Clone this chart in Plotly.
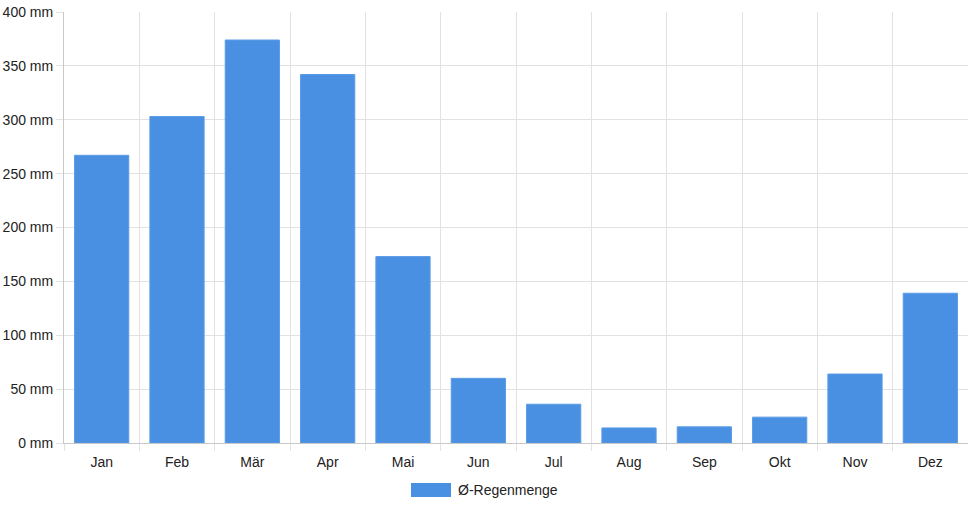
import plotly.graph_objects as go

# Monatsnamen und mittlere Regenmenge (mm)
monate = ["Jan", "Feb", "Mär", "Apr", "Mai", "Jun",
          "Jul", "Aug", "Sep", "Okt", "Nov", "Dez"]
regen_mm = [267, 303, 374, 342, 173, 60, 36, 14, 15, 24, 64, 139]
serie_name = "Ø-Regenmenge"
y_ticks = [0, 50, 100, 150, 200, 250, 300, 350, 400]
y_labels = [f"{v} mm" for v in y_ticks]

blau = "#4a90e2"
grid = "#e2e2e2"

fig = go.Figure()
fig.add_trace(go.Bar(
    x=monate, y=regen_mm, name=serie_name,
    marker=dict(color=blau, line=dict(color="#5b9be6", width=1)),
    showlegend=False,
    hovertemplate="%{x}: %{y} mm<extra></extra>",
))

fig.update_xaxes(
    type="category", tickson="boundaries",
    showgrid=True, gridcolor=grid, gridwidth=1,
    ticks="outside", ticklen=7, tickcolor=grid,
    ticklabelstandoff=6,
    showline=True, linecolor="#c8c8c8", linewidth=1,
    tickfont=dict(size=14, color="#222"),
)
fig.update_yaxes(
    range=[0, 400], tickmode="array", tickvals=y_ticks, ticktext=y_labels,
    showgrid=True, gridcolor=grid, gridwidth=1,
    ticks="outside", ticklen=7, tickcolor=grid,
    showline=True, linecolor="#c8c8c8", linewidth=1,
    zeroline=False,
    tickfont=dict(size=14, color="#222"),
)

# Legende im Chart.js-Stil: breites Farbfeld + Text
fig.add_shape(type="rect", xref="paper", yref="paper",
              x0=(411 - 64) / 904, x1=(451 - 64) / 904,
              y0=-(497 - 443) / 431, y1=-(483 - 443) / 431,
              fillcolor=blau, line=dict(width=0))
fig.add_annotation(text=serie_name, xref="paper", yref="paper",
                   x=(456 - 64) / 904, y=-(490 - 443) / 431,
                   xanchor="left", yanchor="middle", showarrow=False,
                   font=dict(size=14, color="#222"))

fig.update_layout(
    width=968, height=508,
    margin=dict(l=64, r=0, t=12, b=65),
    bargap=0.28,
    plot_bgcolor="white", paper_bgcolor="white",
    font=dict(family="Liberation Sans, Arial, sans-serif", size=14, color="#222"),
)

# Seitenrand des Browsers entfernen, damit die Grafik bündig sitzt
fig.write_html("out.html", config={"displayModeBar": False},
               post_script="document.body.style.margin='0';")
